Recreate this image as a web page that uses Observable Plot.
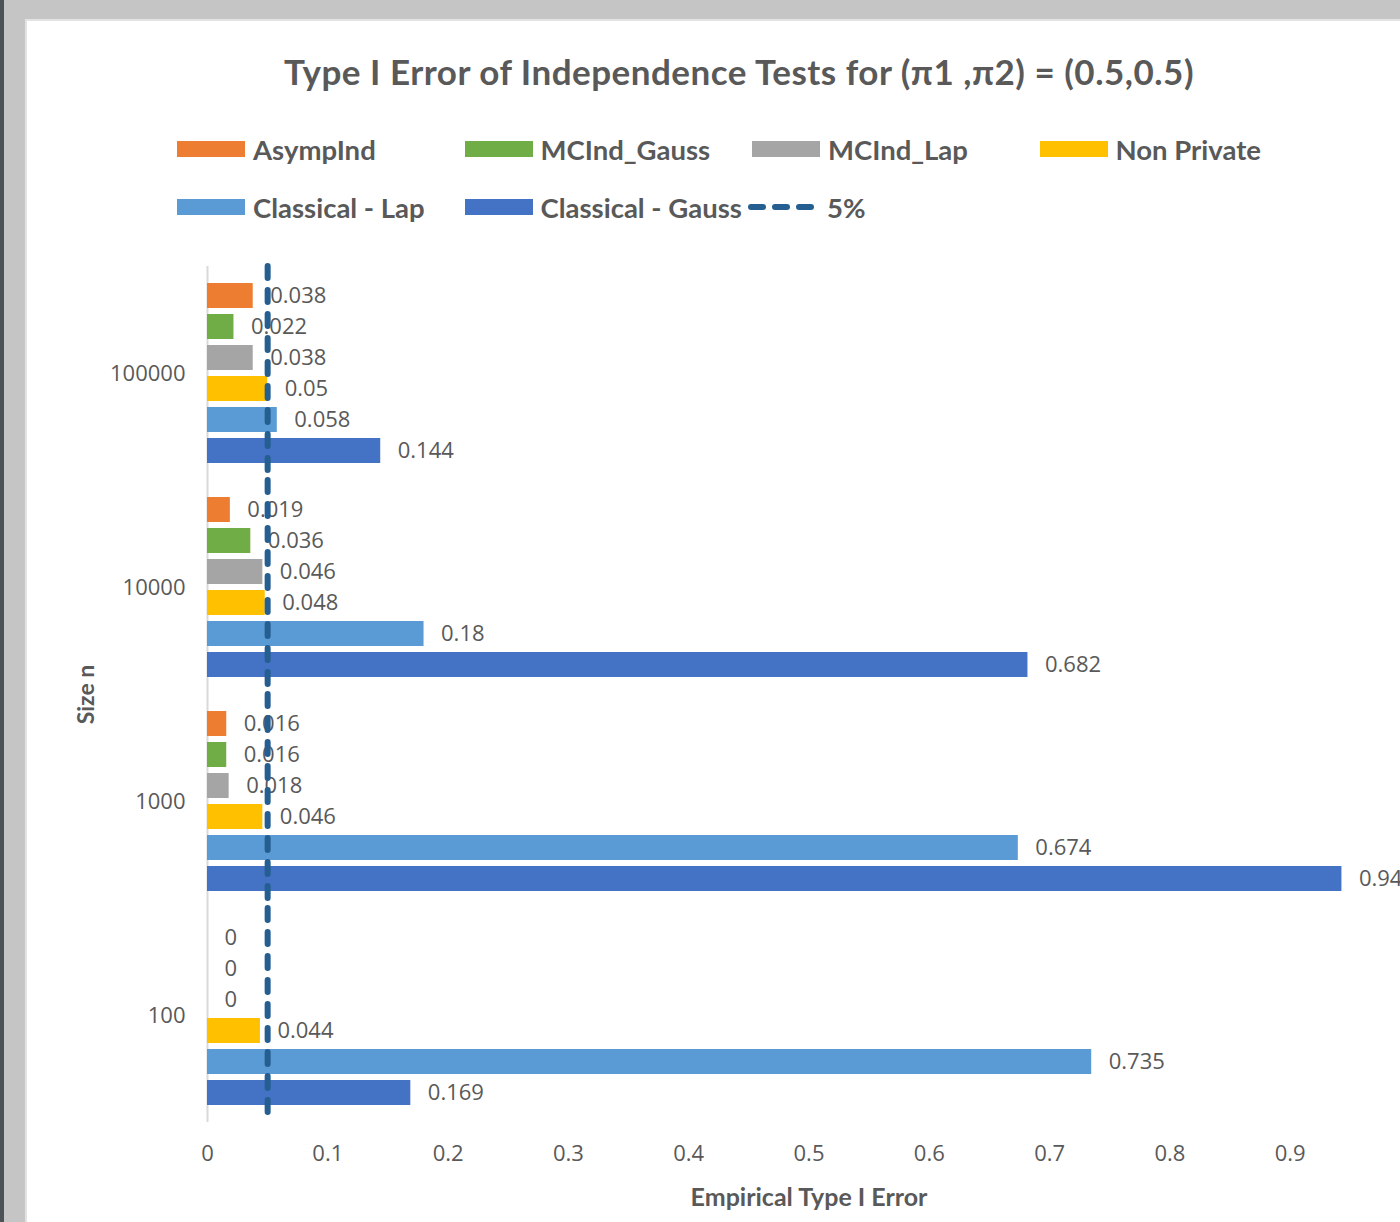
<!DOCTYPE html>
<html>
<head>
<meta charset="utf-8">
<script src="https://cdn.jsdelivr.net/npm/d3@7"></script>
<script src="https://cdn.jsdelivr.net/npm/@observablehq/plot@0.6"></script>
<style>
html,body{margin:0;padding:0;width:1400px;height:1222px;overflow:hidden;background:#c4c5c4;}
#strip{position:absolute;left:0;top:0;width:4px;height:1222px;background:#4d5257;}
#panel{position:absolute;left:25px;top:19px;width:1420px;height:1240px;background:#fff;border-left:2px solid #e3e3e3;border-top:2px solid #e3e3e3;}
#chart{position:absolute;left:0;top:0;width:1460px;}
#chart svg{max-width:none !important;}
#title{position:absolute;left:0;width:1478px;top:52px;text-align:center;font:700 35px Lato,sans-serif;letter-spacing:0.5px;color:#595959;line-height:38px;white-space:nowrap;}
.leg{position:absolute;display:flex;align-items:center;height:30px;font:700 27.5px Lato,sans-serif;color:#595959;white-space:nowrap;}
.sw{width:68px;height:16px;margin-right:8px;}
g[aria-label="x-axis label"] text{font-family:Lato,sans-serif;font-weight:700;font-size:25px;}
g[aria-label="fy-axis label"] text{font-family:Lato,sans-serif;font-weight:700;font-size:23px;}
</style>
</head>
<body>
<div id="strip"></div>
<div id="panel"></div>
<div id="chart"></div>
<div id="title">Type I Error of Independence Tests for (π1 ,π2) = (0.5,0.5)</div>
<div id="legend"></div>
<script>
// ---- data ----
const sizes = ["100000", "10000", "1000", "100"];
const series = ["AsympInd", "MCInd_Gauss", "MCInd_Lap", "Non Private", "Classical - Lap", "Classical - Gauss"];
const colors = ["#ed7d31", "#70ad47", "#a5a5a5", "#ffc000", "#5b9bd5", "#4472c4"];
// values per series, in the order of sizes
const asympInd       = [0.038, 0.019, 0.016, 0];
const mcIndGauss     = [0.022, 0.036, 0.016, 0];
const mcIndLap       = [0.038, 0.046, 0.018, 0];
const nonPrivate     = [0.05, 0.048, 0.046, 0.044];
const classicalLap   = [0.058, 0.18, 0.674, 0.735];
const classicalGauss = [0.144, 0.682, 0.943, 0.169];
const threshold = [0.05];
const thresholdLabel = "5%";
const xTicks = [0, 0.1, 0.2, 0.3, 0.4, 0.5, 0.6, 0.7, 0.8, 0.9];

const seriesValues = [asympInd, mcIndGauss, mcIndLap, nonPrivate, classicalLap, classicalGauss];
const table = [];
series.forEach((s, i) => sizes.forEach((n, j) => table.push({series: s, size: n, value: seriesValues[i][j]})));

// ---- chart ----
const chart = Plot.plot({
  width: 1460,
  height: 1222,
  marginLeft: 207,
  marginRight: 50,
  marginTop: 266,
  marginBottom: 100,
  style: {fontFamily: "'Open Sans', sans-serif", fontSize: "22px", color: "#595959", background: "transparent", overflow: "visible", maxWidth: "none"},
  x: {domain: [0, 1], ticks: xTicks, tickFormat: d => String(d), tickSize: 0, tickPadding: 23,
      label: "Empirical Type I Error", labelArrow: "none", labelAnchor: "center", labelOffset: 83},
  y: {domain: series, paddingInner: 0.2, paddingOuter: 0.55, axis: null},
  fy: {domain: sizes, padding: 0, axis: "left", tickSize: 0, tickPadding: 22,
       label: "Size n", labelAnchor: "center", labelOffset: 130},
  color: {domain: series, range: colors},
  marks: [
    Plot.ruleX([0], {stroke: "#d9d9d9", strokeWidth: 2}),
    Plot.barX(table, {x: "value", y: "series", fy: "size", fill: "series"}),
    Plot.text(table, {x: "value", y: "series", fy: "size", text: d => String(d.value), dx: 17,
                      textAnchor: "start", fill: "#595959", fontSize: 22}),
    Plot.ruleX(threshold, {stroke: "#255e91", strokeWidth: 6, strokeDasharray: "12,12", strokeLinecap: "round"})
  ]
});
document.getElementById("chart").appendChild(chart);

// ---- legend ----
const legend = document.getElementById("legend");
const colX = [177, 464.5, 752, 1039.5];
series.forEach((s, i) => {
  const row = Math.floor(i / 4), col = i % 4;
  const d = document.createElement("div");
  d.className = "leg";
  d.style.left = colX[col] + "px";
  d.style.top = (row === 0 ? 134 : 192) + "px";
  d.innerHTML = `<div class="sw" style="background:${colors[i]}"></div><span>${s}</span>`;
  legend.appendChild(d);
});
const dl = document.createElement("div");
dl.className = "leg";
dl.style.left = "748px";
dl.style.top = "192px";
dl.innerHTML = `<svg width="76" height="16" style="margin-right:3px"><line x1="3" x2="73" y1="8" y2="8" stroke="#255e91" stroke-width="6" stroke-dasharray="12,12" stroke-linecap="round"/></svg><span>${thresholdLabel}</span>`;
legend.appendChild(dl);
</script>
</body>
</html>
